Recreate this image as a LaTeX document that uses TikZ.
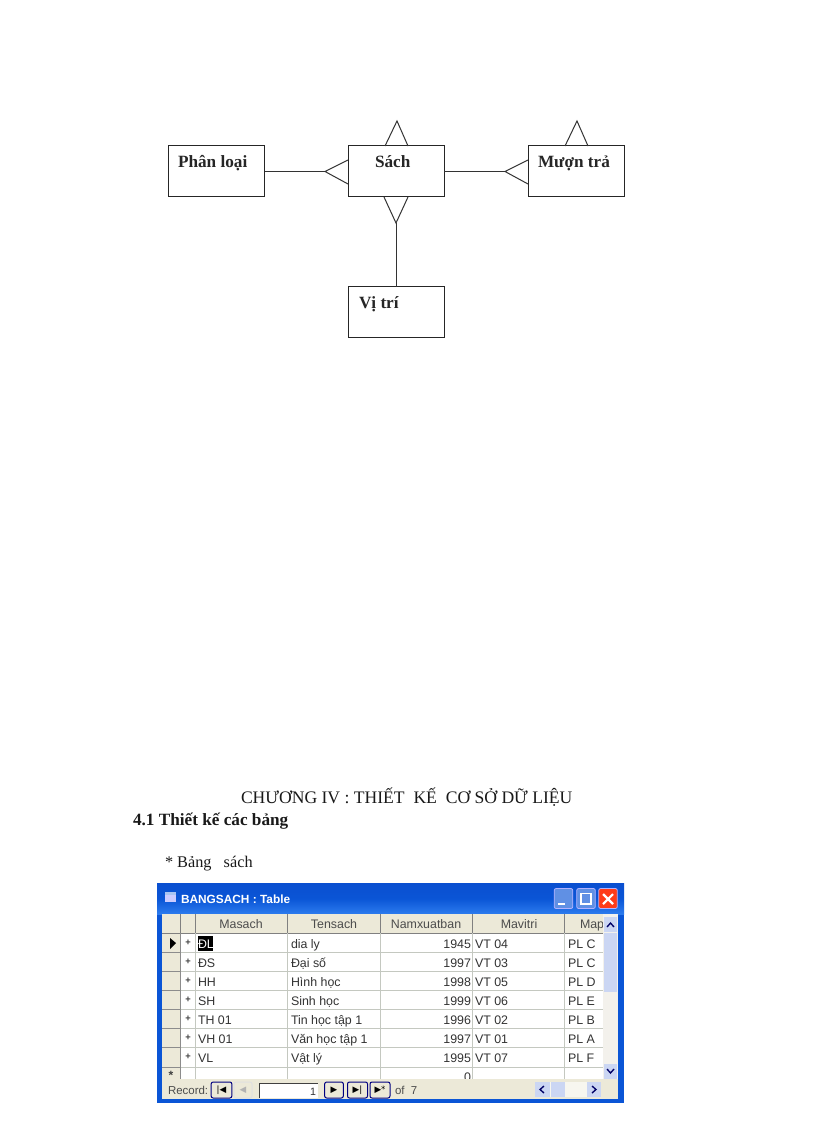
\documentclass[tikz,border=0pt]{standalone}
\usepackage{fontspec}
\setmainfont{Liberation Serif}
\newfontfamily\uifont{Liberation Sans}
\newfontfamily\symfont{DejaVu Sans}
\begin{document}
\definecolor{xpblue}{HTML}{0A55D6}
\definecolor{xpbluetop}{HTML}{0A4FD0}
\definecolor{xpbluelow}{HTML}{2C7BEE}
\definecolor{xpface}{HTML}{ECE9D8}
\definecolor{gridc}{HTML}{C4C8C0}
\definecolor{scrollc}{HTML}{CBD6F3}
\definecolor{scrolltrack}{HTML}{F3F1EC}
\begin{tikzpicture}[x=0.75pt,y=-0.75pt,
  every node/.style={inner sep=0pt,outer sep=0pt},
  erbox/.style={draw=black!85,line width=0.75pt,fill=white,minimum width=72pt,minimum height=38.25pt},
  erlink/.style={draw=black!80,line width=0.75pt},
  erlabel/.style={anchor=base west,font=\bfseries\fontsize{12.9pt}{14pt}\selectfont,text=black!85},
  headtext/.style={anchor=base west,font=\fontsize{13.2pt}{15pt}\selectfont,text=black!90},
  cell/.style={anchor=base west,font=\uifont\fontsize{9.3pt}{11pt}\selectfont,text=black!80},
  cellr/.style={cell,anchor=base east},
  headcell/.style={anchor=base,font=\uifont\fontsize{9.3pt}{11pt}\selectfont,text=black!70},
  winbtn/.style={draw=white!70!blue,line width=0.6pt,rounded corners=1.5pt,minimum width=14pt,minimum height=15pt},
  navbtn/.style={draw=black!50!blue,line width=0.75pt,fill=xpface,rounded corners=1.5pt,minimum height=12pt,font=\symfont\fontsize{6.5pt}{8pt}\selectfont,text=black}
]
\useasboundingbox[fill=white] (0,0) rectangle (816,1123);

% ===== ER diagram =====
\node[erbox] (phan) at (216.5,171.5) {};
\node[erbox] (sach) at (396,171.5) {};
\node[erbox] (muon) at (576.5,171.5) {};
\node[erbox] (vitri) at (396,312) {};
\node[erlabel] (phanT) at (178,168) {Phân loại};
\node[erlabel] (sachT) at (375,168) {Sách};
\node[erlabel] (muonT) at (538,168) {Mượn trả};
\node[erlabel] (vitriT) at (359,308) {Vị trí};

\coordinate (apexL) at (325,171.5);
\coordinate (apexR) at (505,171.5);
\coordinate (apexB) at (396,223);
\coordinate (apexS) at (397,121);
\coordinate (apexM) at (577,121);

\draw[erlink] (phan.east) -- (apexL);
\draw[erlink] (sach.east) -- (apexR);
\draw[erlink] (vitri.north) -- (apexB);
\draw[erlink] (348,160) -- (apexL) -- (348,184);
\draw[erlink] (528,160) -- (apexR) -- (528,184);
\draw[erlink] (384,197) -- (apexB) -- (408,197);
\draw[erlink] (385,146) -- (apexS) -- (408,146);
\draw[erlink] (565,146) -- (apexM) -- (588,146);

% ===== headings =====
\node[headtext] (chuong) at (241,803) {CHƯƠNG IV : THIẾT\ \ KẾ\ \ CƠ SỞ DỮ LIỆU};
\node[headtext,font=\bfseries\fontsize{12.9pt}{15pt}\selectfont] (muc) at (133,825) {4.1 Thiết kế các bảng};
\node[headtext,font=\fontsize{12.2pt}{14pt}\selectfont] (bang) at (165,867) {* Bảng\ \ \ sách};

% ===== Access window =====
\fill[xpblue] (157,883) rectangle (624,1103);
\shade[top color=xpbluetop,bottom color=xpbluelow,middle color=xpblue] (157,883) rectangle (624,914);
\fill[xpface] (162,914) rectangle (618,1099);
\fill[white] (180,933) rectangle (603,1079);

% title bar
\fill[white!80!blue] (165,892) rectangle (176,902);
\fill[xpblue!35] (165,892) rectangle (176,894.5);
\node[anchor=base west,font=\uifont\bfseries\fontsize{8.9pt}{11pt}\selectfont,text=white] (wintitle) at (181,903.5) {BANGSACH : Table};
\node[winbtn,fill=xpblue!65!white] (minb) at (563.5,898.5) {};
\node[winbtn,fill=xpblue!65!white] (maxb) at (586,898.5) {};
\node[winbtn,fill=red!70!orange!90!white] (closeb) at (608,898.5) {};
\fill[white] (558,903) rectangle (565,905);
\draw[white,line width=0.8pt] (581,893.5) rectangle (591,904);
\draw[white,line width=1.6pt] (603,894) -- (613,904) (613,894) -- (603,904);

% table header
\foreach \xb in {180.5,195.5,287.5,380.5,472.5,564.5}{
  \draw[black!50,line width=0.75pt] (\xb,914) -- (\xb,933);
}
\draw[black!50,line width=0.75pt] (162,933.5) -- (603,933.5);
\node[headcell] (hMasach) at (241,928) {Masach};
\node[headcell] (hTensach) at (334,928) {Tensach};
\node[headcell] (hNam) at (426,928) {Namxuatban};
\node[headcell] (hMavitri) at (519,928) {Mavitri};
\begin{scope}
\clip (564,914) rectangle (603,933);
\node[cell,text=black!70] (hMap) at (580,928) {Maphanloai};
\end{scope}

% row selector + grid
\foreach \ya/\yb/\lbl in {933/952/a,952/971/b,971/990/c,990/1009/d,1009/1028/e,1028/1047/f,1047/1067/g}{
  \draw[black!45,line width=0.75pt] (162,\yb+.5) -- (180,\yb+.5);
  \node[font=\uifont\bfseries\fontsize{7pt}{8pt}\selectfont,text=black!75] (plus\lbl) at (188,{(\ya+\yb)/2}) {+};
}
\foreach \x in {195.5,287.5,380.5,472.5,564.5}{
  \draw[gridc,line width=0.75pt] (\x,933) -- (\x,1079);
}
\foreach \y in {952.5,971.5,990.5,1009.5,1028.5,1047.5,1067.5}{
  \draw[gridc,line width=0.75pt] (180,\y) -- (603,\y);
}
\draw[black!45,line width=0.75pt] (180.5,933) -- (180.5,1079);
\fill[black] (170,938) -- (176,943) -- (170,949) -- cycle;
\node[font=\uifont\bfseries\fontsize{9pt}{9pt}\selectfont,text=black!75] (star) at (171,1075) {*};

% selected cell
\fill[black] (198,936) rectangle (213,951);
\node[cell,text=white] (c11) at (198,948.5) {ĐL};
\node[cell] (c12) at (291,948.5) {dia ly};
\node[cellr] (c13) at (471,948.5) {1945};
\node[cell] (c14) at (475,948.5) {VT 04};
\node[cell] (c15) at (568,948.5) {PL C};

\foreach \y/\a/\b/\c/\d/\e/\n in {
  967.5/ĐS/Đại số/1997/VT 03/PL C/2,
  986.5/HH/Hình học/1998/VT 05/PL D/3,
  1005.5/SH/Sinh học/1999/VT 06/PL E/4,
  1024.5/TH 01/Tin học tập 1/1996/VT 02/PL B/5,
  1043.5/VH 01/Văn học tập 1/1997/VT 01/PL A/6,
  1062.5/VL/Vật lý/1995/VT 07/PL F/7}{
  \node[cell] (c\n1) at (198,\y) {\a};
  \node[cell] (c\n2) at (291,\y) {\b};
  \node[cellr] (c\n3) at (471,\y) {\c};
  \node[cell] (c\n4) at (475,\y) {\d};
  \node[cell] (c\n5) at (568,\y) {\e};
}
\begin{scope}
\clip (380,1067) rectangle (472,1079);
\node[cellr] (c83) at (471,1081) {0};
\end{scope}

% vertical scrollbar
\fill[scrolltrack] (603,914) rectangle (618,1079);
\fill[scrollc] (604,933) rectangle (617,992);
\fill[scrollc] (604,917) rectangle (617,932);
\fill[scrollc] (604,1064) rectangle (617,1079);
\draw[black!60!blue,line width=1pt] (607,927) -- (610.5,923) -- (614,927);
\draw[black!60!blue,line width=1pt] (607,1069) -- (610.5,1073) -- (614,1069);

% navigation bar
\fill[xpface] (162,1079) rectangle (618,1099);
\node[anchor=base west,font=\uifont\fontsize{8.6pt}{10pt}\selectfont,text=black!70] (recLbl) at (168,1094) {Record:};
\node[navbtn,minimum width=15.5pt] (navFirst) at (221.5,1090) {|◀};
\node[navbtn,minimum width=13.5pt,draw=black!12,text=black!30] (navPrev) at (243,1090) {◀};
\fill[white] (259,1098) rectangle (318,1083);
\draw[black!75,line width=0.75pt] (259.5,1098) -- (259.5,1083.5) -- (318,1083.5);
\node[cell,anchor=base east,font=\uifont\fontsize{8pt}{10pt}\selectfont] (recNum) at (316,1095) {1};
\node[navbtn,minimum width=14pt] (navNext) at (334,1090) {▶};
\node[navbtn,minimum width=15pt] (navLast) at (357.5,1090) {▶|};
\node[navbtn,minimum width=15pt] (navNew) at (380,1090) {▶*};
\node[anchor=base west,font=\uifont\fontsize{8.6pt}{10pt}\selectfont,text=black!70] (ofLbl) at (395,1094) {of\ \ 7};
\fill[white!60!xpface] (535,1082) rectangle (601,1097);
\fill[scrollc] (535,1082) rectangle (550,1097);
\fill[scrollc] (551,1082) rectangle (565,1097);
\fill[scrollc] (587,1082) rectangle (601,1097);
\draw[black!60!blue,line width=1pt] (544,1086) -- (540,1089.5) -- (544,1093);
\draw[black!60!blue,line width=1pt] (592,1086) -- (596,1089.5) -- (592,1093);
\end{tikzpicture}
\end{document}
